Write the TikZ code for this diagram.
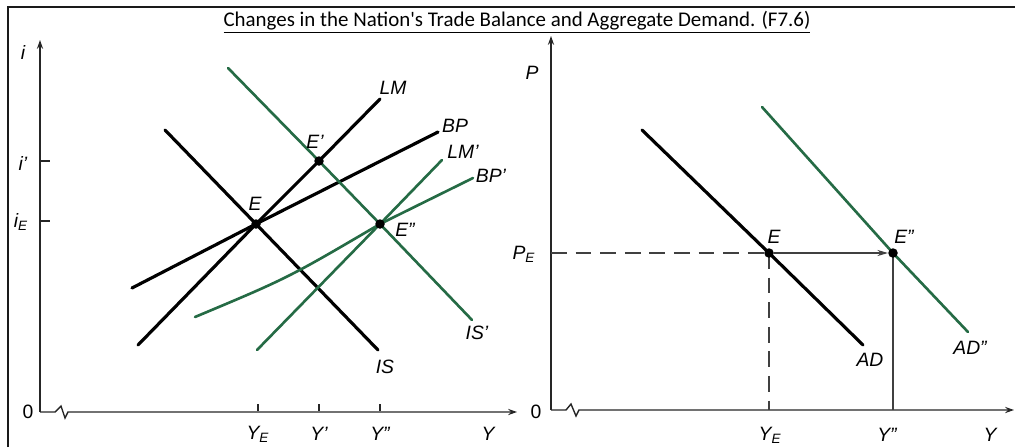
\documentclass[tikz,border=0pt]{standalone}
\usepackage{fontspec}
\setmainfont{Liberation Sans}
\newfontfamily\titlefont{Carlito}
\usetikzlibrary{positioning,arrows.meta}
\definecolor{CurveGreen}{HTML}{256B45}
\definecolor{FrameGray}{HTML}{1A1A1A}
\tikzset{
  curveK/.style={line width=1.8pt,draw=black,line cap=round},
  curveG/.style={line width=1.5pt,draw=CurveGreen,line cap=round},
  axisline/.style={line width=0.8pt,draw=black!85},
  guideline/.style={line width=0.6pt,draw=black!75},
  eqdot/.style={circle,fill=black,inner sep=0pt,minimum size=0.19cm},
  lbl/.style={font=\fontsize{11}{13}\selectfont\itshape,inner sep=1pt},
  axtip/.style={-{Stealth[length=5pt,width=3.5pt]}},
}

\begin{document}
\begin{tikzpicture}[x=0.02cm,y=-0.02cm]
  \useasboundingbox (0,0) rectangle (1015,447);
  \draw[line width=1.1pt,draw=FrameGray] (8,447) -- (8,7) -- (1015,7);
  \node[font=\titlefont\fontsize{11.9}{14}\selectfont] (title) at (517,22)
    {\underline{Changes in the Nation's Trade Balance and Aggregate Demand. (F7.6)}};

  % left panel: IS-LM-BP
  \coordinate (oL) at (40,412);
  \coordinate (E) at (256,224);
  \coordinate (Ep) at (319,161);
  \coordinate (Epp) at (380,224);
  \draw[axisline,axtip] (oL) -- (40,40);
  \draw[axisline,axtip] (oL) -- (55,412) -- (61,406) -- (65,418) -- (68,412) -- (517,412);
  \draw[axisline] (40,161) -- (50,161);
  \draw[axisline] (40,221) -- (50,221);
  \foreach \xt in {258,319,380}
    \draw[axisline] (\xt,404) -- (\xt,411);
  \node[lbl] (li) at (23,52) {i};
  \node[lbl] (lip) at (23,163) {i'};
  \node[lbl] (liE) at (21,222) {i\textsubscript{E}};
  \node[font=\fontsize{11}{13}\selectfont] (lzero) at (28,412) {0};
  \node[lbl] (lYE) at (258,434) {Y\textsubscript{E}};
  \node[lbl] (lYp) at (319,434) {Y'};
  \node[lbl] (lYpp) at (380,434) {Y''};
  \node[lbl] (lY) at (488,434) {Y};

  \draw[curveK] (165,130) -- (E) -- (378,350);
  \draw[curveK] (138,345) -- (E) -- (Ep) -- (380,99);
  \draw[curveK] (132,288) -- (E) -- (438,132);
  \draw[curveG] (228,68) -- (Ep) -- (Epp) -- (472,320);
  \draw[curveG] (257,350) -- (Epp) -- (442,160);
  \draw[curveG] (195,317) .. controls (288,278) .. (Epp) -- (473,178);
  \node[eqdot] (dE) at (E) {};
  \node[eqdot] (dEp) at (Ep) {};
  \node[eqdot] (dEpp) at (Epp) {};

  \node[lbl] (lLM) at (393,88) {LM};
  \node[lbl] (lBP) at (455,126) {BP};
  \node[lbl] (lLMp) at (463,152) {LM'};
  \node[lbl] (lBPp) at (491,176) {BP'};
  \node[lbl] (lE) at (255,204) {E};
  \node[lbl] (lEp) at (315,142) {E'};
  \node[lbl] (lEpp) at (405,230) {E''};
  \node[lbl] (lISp) at (477,333) {IS'};
  \node[lbl] (lIS) at (385,367) {IS};

  % right panel: AD
  \coordinate (oR) at (551,410);
  \coordinate (rE) at (769,253);
  \coordinate (rEpp) at (893,253);
  \coordinate (rPE) at (551,253);
  \draw[axisline,axtip] (oR) -- (551,36);
  \draw[axisline,axtip] (oR) -- (566,410) -- (571,404) -- (576,416) -- (579,410) -- (1014,410);
  \node[lbl] (lP) at (532,73) {P};
  \node[lbl] (lPE) at (524,254) {P\textsubscript{E}};
  \node[font=\fontsize{11}{13}\selectfont] (rzero) at (536,412) {0};
  \node[lbl] (rYE) at (770,435) {Y\textsubscript{E}};
  \node[lbl] (rYpp) at (887,435) {Y''};
  \node[lbl] (rY) at (990,435) {Y};

  \draw[guideline,dashed,dash pattern=on 9pt off 5pt] (rPE) -- (rE);
  \draw[guideline,dashed,dash pattern=on 9pt off 5pt] (rE) -- (769,410);
  \draw[guideline] (rEpp) -- (893,410);
  \draw[curveK] (642,130) -- (rE) -- (863,345);
  \draw[curveG] (762,107) -- (rEpp) -- (968,332);
  \node[eqdot] (drE) at (rE) {};
  \node[eqdot] (drEpp) at (rEpp) {};
  \draw[guideline,-{Stealth[length=6pt,width=3.5pt]}] (drE) -- (drEpp);

  \node[lbl] (rlE) at (774,237) {E};
  \node[lbl] (rlEpp) at (904,237) {E''};
  \node[lbl] (lAD) at (870,360) {AD};
  \node[lbl] (lADpp) at (970,348) {AD''};
\end{tikzpicture}
\end{document}
